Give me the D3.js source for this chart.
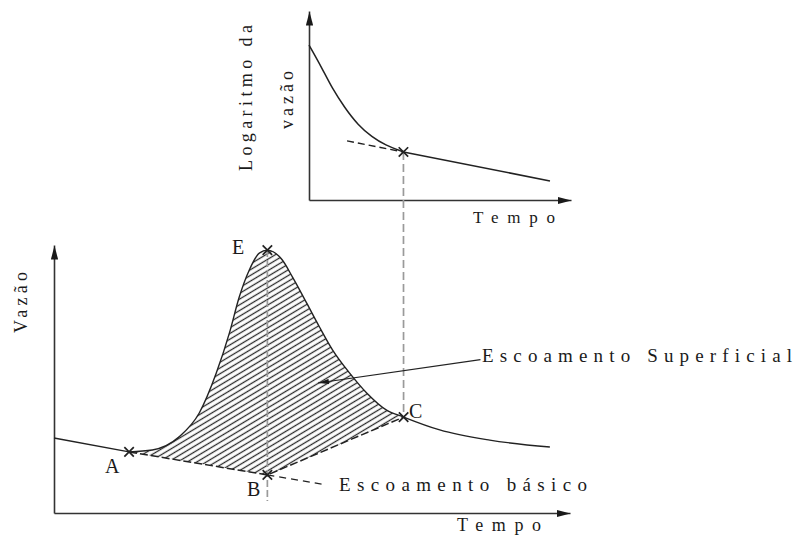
<!DOCTYPE html>
<html>
<head>
<meta charset="utf-8">
<script src="https://cdn.jsdelivr.net/npm/d3@7"></script>
<style>
  html, body { margin: 0; padding: 0; background: #fff; }
  svg { display: block; }
</style>
</head>
<body>
<svg id="chart" width="796" height="535"></svg>
<script>
// Hidrograma de cheia (tempo em h, vazão em m³/s, valores esquemáticos)
const tempo = [0, 2.91, 3.81, 4.85, 5.63, 6.29, 6.80, 7.18, 7.57, 7.96, 8.27, 8.85, 9.24, 9.79, 10.29, 10.80, 11.46, 12.12, 12.89, 13.55, 14.95, 16.89, 19.22];
const vazao = [2.80, 2.28, 2.35, 2.84, 3.73, 5.22, 6.72, 8.06, 9.07, 9.70, 9.81, 9.44, 8.81, 7.84, 6.94, 6.08, 5.22, 4.48, 3.84, 3.58, 3.10, 2.72, 2.46];

// Pontos notáveis do hidrograma
const pontosNomes = ["A", "E", "B", "C"];
const pontosTempo = [2.91, 8.27, 8.27, 13.55];
const pontosVazao = [2.28, 9.81, 1.42, 3.58];

// Separação do escoamento básico (A -> B -> C) e prolongamento da recessão após B
const baseTempo = [2.91, 8.27, 13.55];
const baseVazao = [2.28, 1.42, 3.58];
const recessaoTempo = [8.27, 10.37];
const recessaoVazao = [1.42, 1.08];

// Curva de recessão em escala logarítmica (gráfico superior)
const logTempo = [10, 10.49, 10.86, 11.35, 11.84, 12.37, 12.86, 13.55, 19.06];
const logVazao = [8.20, 6.98, 5.93, 4.87, 3.97, 3.33, 2.91, 2.54, 1.01];
const tangTempo = [11.43, 13.55];
const tangVazao = [3.13, 2.54];

// Textos
const rotuloVazao = "Vazão";
const rotuloTempo = "Tempo";
const rotuloLog = ["Logaritmo  da", "vazão"];
const rotuloSuperficial = "Escoamento Superficial";
const rotuloBasico = "Escoamento básico";

const FONTE = "'Liberation Serif', 'Times New Roman', 'DejaVu Serif', serif";

const svg = d3.select("#chart");
const defs = svg.append("defs");

// Escalas
const xB = d3.scaleLinear().domain([0, 20]).range([54, 570]);
const yB = d3.scaleLinear().domain([0, 10]).range([513, 245]);
const xT = d3.scaleLinear().domain([10, 19.85]).range([309, 571]);
const yT = d3.scaleLinear().domain([0, 10]).range([200, 11]);

// Pontas de seta
function arrowMarker(id, len, half) {
  defs.append("marker")
    .attr("id", id)
    .attr("viewBox", `0 ${-half} ${len} ${2 * half}`)
    .attr("refX", len).attr("refY", 0)
    .attr("markerUnits", "userSpaceOnUse")
    .attr("markerWidth", len).attr("markerHeight", 2 * half)
    .attr("orient", "auto")
    .append("path")
    .attr("d", `M0,${-half}L${len},0L0,${half}Z`)
    .attr("fill", "#1a1a1a");
}
arrowMarker("seta-eixo", 14, 3.6);
arrowMarker("seta-rotulo", 11, 2.6);

// Padrão de hachuras
const hatch = defs.append("pattern")
  .attr("id", "hachura")
  .attr("patternUnits", "userSpaceOnUse")
  .attr("width", 10).attr("height", 4.9)
  .attr("patternTransform", "rotate(-31)");
hatch.append("line")
  .attr("x1", -1).attr("x2", 11).attr("y1", 2.45).attr("y2", 2.45)
  .attr("stroke", "#2a2a2a").attr("stroke-width", 1.3);

// Eixos sem marcas de escala, com setas na extremidade
function drawAxis(axis, transform) {
  const g = svg.append("g").attr("transform", transform).call(axis);
  g.select(".domain")
    .attr("stroke", "#333").attr("stroke-width", 1.6)
    .attr("marker-end", "url(#seta-eixo)");
  return g;
}
drawAxis(d3.axisBottom(xB).tickValues([]).tickSizeOuter(0), `translate(0,${yB(0)})`);
drawAxis(d3.axisLeft(yB).tickValues([]).tickSizeOuter(0), `translate(${xB(0)},0)`);
drawAxis(d3.axisBottom(xT).tickValues([]).tickSizeOuter(0), `translate(0,${yT(0)})`);
drawAxis(d3.axisLeft(yT).tickValues([]).tickSizeOuter(0), `translate(${xT(10)},0)`);

const hidro = tempo.map((t, i) => [t, vazao[i]]);
const iA = 1, iC = tempo.indexOf(13.55);

// Área hachurada: entre o hidrograma (A..C) e a separação do escoamento básico (C -> B -> A)
const lineB = d3.line().x(d => xB(d[0])).y(d => yB(d[1]));
const curveB = d3.line().x(d => xB(d[0])).y(d => yB(d[1])).curve(d3.curveMonotoneX);
const topoPath = curveB(hidro.slice(iA, iC + 1));
const baseRev = baseTempo.map((t, i) => [t, baseVazao[i]]).reverse();
const areaD = topoPath + baseRev.map(d => `L${xB(d[0])},${yB(d[1])}`).join("") + "Z";
svg.append("path").attr("d", areaD).attr("fill", "url(#hachura)").attr("stroke", "none");

// Linhas verticais de referência (tracejado cinza)
svg.append("line")
  .attr("x1", xB(pontosTempo[1])).attr("x2", xB(pontosTempo[1]))
  .attr("y1", yB(pontosVazao[1])).attr("y2", yB(0.45))
  .attr("stroke", "#9a9a9a").attr("stroke-width", 1.7).attr("stroke-dasharray", "7,3");
svg.append("line")
  .attr("x1", xT(tangTempo[1])).attr("x2", xB(pontosTempo[3]))
  .attr("y1", yT(tangVazao[1])).attr("y2", yB(pontosVazao[3]))
  .attr("stroke", "#9a9a9a").attr("stroke-width", 1.7).attr("stroke-dasharray", "8,4");

// Hidrograma
svg.append("path").attr("d", lineB(hidro.slice(0, iA + 1)))
  .attr("fill", "none").attr("stroke", "#222").attr("stroke-width", 1.4);
svg.append("path").attr("d", curveB(hidro.slice(iA)))
  .attr("fill", "none").attr("stroke", "#222").attr("stroke-width", 1.4);

// Escoamento básico (tracejado)
svg.append("path").attr("d", lineB(baseTempo.map((t, i) => [t, baseVazao[i]])))
  .attr("fill", "none").attr("stroke", "#222").attr("stroke-width", 1.5)
  .attr("stroke-dasharray", "8,3");
svg.append("path").attr("d", lineB(recessaoTempo.map((t, i) => [t, recessaoVazao[i]])))
  .attr("fill", "none").attr("stroke", "#222").attr("stroke-width", 1.3)
  .attr("stroke-dasharray", "7,5");

// Gráfico superior: curva de recessão (suavizada) e tangente
const logPts = logTempo.map((t, i) => [t, logVazao[i]]);
const iX = logTempo.indexOf(13.55);
const curveT = d3.line().x(d => xT(d[0])).y(d => yT(d[1])).curve(d3.curveBasis);
const lineT = d3.line().x(d => xT(d[0])).y(d => yT(d[1]));
svg.append("path").attr("d", curveT(logPts.slice(0, iX + 1)))
  .attr("fill", "none").attr("stroke", "#222").attr("stroke-width", 1.5);
svg.append("path").attr("d", lineT(logPts.slice(iX)))
  .attr("fill", "none").attr("stroke", "#222").attr("stroke-width", 1.5);
svg.append("path").attr("d", lineT(tangTempo.map((t, i) => [t, tangVazao[i]])))
  .attr("fill", "none").attr("stroke", "#222").attr("stroke-width", 1.4)
  .attr("stroke-dasharray", "7,4");

// Marcas em X
const xSym = d3.symbol().type(d3.symbolX).size(60);
const marcas = pontosTempo.map((t, i) => [xB(t), yB(pontosVazao[i])]);
marcas.push([xT(tangTempo[1]), yT(tangVazao[1])]);
svg.selectAll(".marca").data(marcas).join("path")
  .attr("class", "marca")
  .attr("transform", d => `translate(${d[0]},${d[1]})`)
  .attr("d", xSym)
  .attr("fill", "none").attr("stroke", "#222").attr("stroke-width", 1.7);

// Rótulos dos pontos
const letraPos = { A: [105, 473], E: [232, 254], B: [247, 496], C: [409, 418] };
pontosNomes.forEach(n => {
  svg.append("text").attr("x", letraPos[n][0]).attr("y", letraPos[n][1])
    .attr("font-family", FONTE).attr("font-size", 20).attr("fill", "#1a1a1a")
    .text(n);
});

// Seta indicando o escoamento superficial
svg.append("line")
  .attr("x1", xB(16.53)).attr("y1", yB(5.72))
  .attr("x2", xB(10.23)).attr("y2", yB(4.85))
  .attr("stroke", "#222").attr("stroke-width", 1.2)
  .attr("marker-end", "url(#seta-rotulo)");

function spaced(x, y, txt, len, size, rot) {
  const t = svg.append("text")
    .attr("font-family", FONTE)
    .attr("font-size", size).attr("fill", "#1a1a1a")
    .attr("textLength", len).attr("lengthAdjust", "spacing")
    .text(txt);
  if (rot) t.attr("transform", `translate(${x},${y}) rotate(-90)`);
  else t.attr("x", x).attr("y", y);
  return t;
}

spaced(482, 362, rotuloSuperficial, 310, 19);
spaced(339, 491, rotuloBasico, 248, 19);
spaced(457, 531, rotuloTempo, 84, 18);
spaced(473, 223, rotuloTempo, 82, 17);
spaced(27, 333, rotuloVazao, 61, 18, true);
spaced(252, 171, rotuloLog[0], 146, 18, true);
spaced(293, 129, rotuloLog[1], 58, 18, true);
</script>
</body>
</html>
